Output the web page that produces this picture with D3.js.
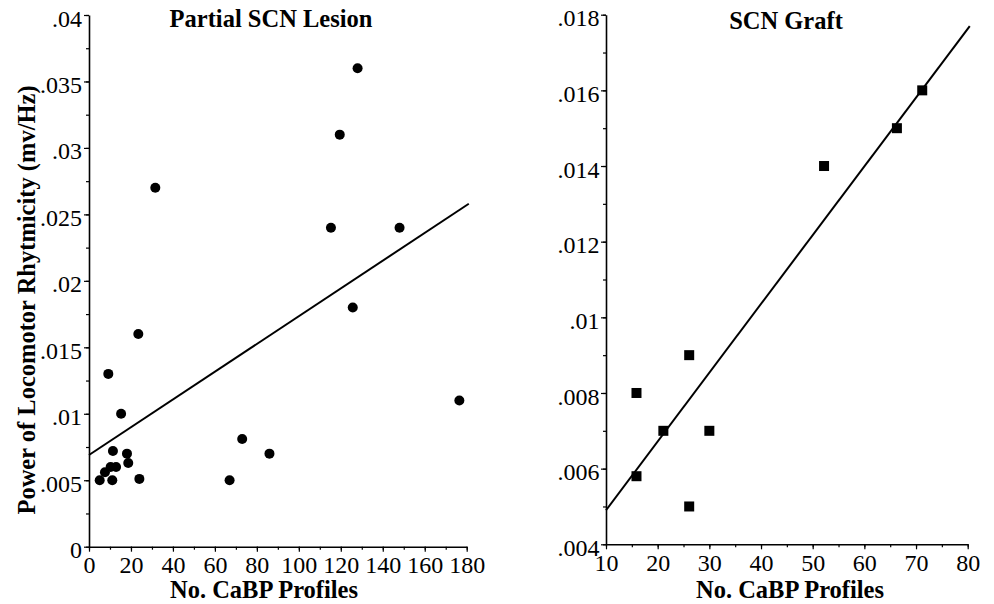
<!DOCTYPE html>
<html>
<head>
<meta charset="utf-8">
<script src="https://cdn.jsdelivr.net/npm/d3@7"></script>
<style>
  body { margin: 0; background: #fff; }
  text { font-family: "Liberation Serif", "Times New Roman", serif; fill: #000; }
  .tick text { font-size: 24px; }
  .title, .alabel { font-size: 24.5px; font-weight: bold; }
</style>
</head>
<body>
<div id="chart"></div>
<script>
// Partial SCN Lesion data
var lesionX = [128, 119.5, 31.6, 115.3, 148, 125.7, 23.5, 9.2, 15.3, 176.5, 73, 86, 67, 24, 18.1, 18.7, 11.4, 12.9, 10.3, 11.1, 5.1, 7.6]
var lesionY = [.036, .031, .027, .024, .024, .018, .016, .013, .010, .011, .0081, .007, .005, .0051, .007, .0063, .0072, .006, .006, .005, .005, .0056]
var lesionFit = [[0, .0069], [181, .0258]]

// SCN Graft data
var graftX = [52.2, 66.3, 71.2, 26.1, 15.9, 21.1, 30, 15.9, 26.1]
var graftY = [.014, .015, .016, .009, .008, .007, .007, .0058, .005]
var graftFit = [[10, .0049], [80.4, .0177]]

var lesionXTicks = [0, 20, 40, 60, 80, 100, 120, 140, 160, 180]
var lesionYTicks = [0, .005, .01, .015, .02, .025, .03, .035, .04]
var graftXTicks = [10, 20, 30, 40, 50, 60, 70, 80]
var graftYTicks = [.004, .006, .008, .01, .012, .014, .016, .018]

var w = 994, h = 604

var svg = d3.select("#chart")
	.append("svg")
	.attr("width", w)
	.attr("height", h)

var fmt = function(d) {
	return d === 0 ? "0" : d3.format(".3~f")(d).replace(/^0/, "")
}

function panel(opt) {
	var x = d3.scaleLinear().domain(opt.xDomain).range(opt.xRange)
	var y = d3.scaleLinear().domain(opt.yDomain).range(opt.yRange)
	var g = svg.append("g")

	// minor ticks
	g.append("g")
		.attr("transform", "translate(0," + opt.yRange[0] + ")")
		.call(d3.axisBottom(x).tickValues(d3.range(opt.xDomain[0], opt.xDomain[1] + 1e-9, opt.xMinor)).tickSize(3).tickFormat(""))
		.call(s => s.select(".domain").remove())
	g.append("g")
		.attr("transform", "translate(" + opt.xRange[0] + ",0)")
		.call(d3.axisLeft(y).tickValues(d3.range(opt.yDomain[0], opt.yDomain[1] + 1e-9, opt.yMinor)).tickSize(3).tickFormat(""))
		.call(s => s.select(".domain").remove())

	// major axes
	g.append("g")
		.attr("transform", "translate(0," + opt.yRange[0] + ")")
		.call(d3.axisBottom(x).tickValues(opt.xTicks).tickSize(5).tickSizeOuter(0).tickPadding(4.5))
	g.append("g")
		.attr("transform", "translate(" + opt.xRange[0] + ",0)")
		.call(d3.axisLeft(y).tickValues(opt.yTicks).tickFormat(fmt).tickSize(5).tickSizeOuter(0).tickPadding(opt.yPad))
		.selectAll(".tick text").attr("dy", "0.46em")
	g.selectAll(".domain").attr("stroke-width", 1.6)
	g.selectAll(".tick line").attr("stroke-width", 1.2)

	// fit line
	g.append("path")
		.datum(opt.fit)
		.attr("fill", "none")
		.attr("stroke", "#000")
		.attr("stroke-width", 2)
		.attr("d", d3.line().x(d => x(d[0])).y(d => y(d[1])))

	// points
	var pts = opt.xs.map((v, i) => [v, opt.ys[i]])
	if (opt.square) {
		g.selectAll("rect.pt").data(pts).enter().append("rect")
			.attr("x", d => x(d[0]) - 5)
			.attr("y", d => y(d[1]) - 5)
			.attr("width", 10).attr("height", 10)
			.attr("fill", "#000")
	} else {
		g.selectAll("circle.pt").data(pts).enter().append("circle")
			.attr("cx", d => x(d[0]))
			.attr("cy", d => y(d[1]))
			.attr("r", 5)
			.attr("fill", "#000")
	}

	g.append("text").attr("class", "title")
		.attr("x", opt.titleX).attr("y", opt.titleY)
		.attr("text-anchor", "middle")
		.text(opt.title)
	g.append("text").attr("class", "alabel")
		.attr("x", opt.labelX).attr("y", 598)
		.attr("text-anchor", "middle")
		.text("No. CaBP Profiles")
	return g
}

panel({
	xDomain: [0, 180], xRange: [89, 466.7],
	yDomain: [0, .04], yRange: [546.7, 15],
	xMinor: 10, yMinor: .0025, yPad: 2,
	xTicks: lesionXTicks, yTicks: lesionYTicks,
	xs: lesionX, ys: lesionY, fit: lesionFit,
	title: "Partial SCN Lesion", titleX: 271, titleY: 27, labelX: 264
})

panel({
	xDomain: [10, 80], xRange: [606, 967.7],
	yDomain: [.004, .018], yRange: [544.3, 14.7],
	xMinor: 5, yMinor: .001, yPad: 1.5,
	xTicks: graftXTicks, yTicks: graftYTicks,
	xs: graftX, ys: graftY, fit: graftFit, square: true,
	title: "SCN Graft", titleX: 786, titleY: 29, labelX: 790
})

// y axis label
svg.append("text").attr("class", "alabel")
	.attr("transform", "translate(34.5,300) rotate(-90)")
	.attr("text-anchor", "middle")
	.text("Power of Locomotor Rhytmicity (mv/Hz)")
</script>
</body>
</html>
